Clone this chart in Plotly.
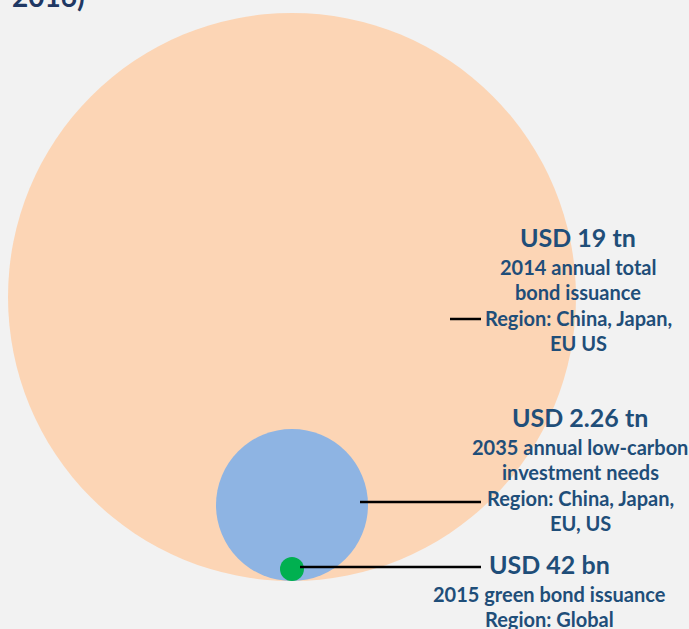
import plotly.graph_objects as go

# ---- data ----
labels = ["USD 19 tn", "USD 2.26 tn", "USD 42 bn"]
values_usd_bn = [19000, 2260, 42]
descriptions = [
    ["2014 annual total", "bond issuance", "Region: China, Japan,", "EU US"],
    ["2035 annual low-carbon", "investment needs", "Region: China, Japan,", "EU, US"],
    ["2015 green bond issuance", "Region: Global"],
]
title_fragment = "2016)"

# ---- styles / layout (pixel-like coordinate system) ----
W, H = 689, 629
colors = ["#fcd5b5", "#8eb4e3", "#00b050"]
radii = [284, 76, 12]          # drawn sizes of the bubbles
base_x, base_y = 292, 581      # common tangent point at the bottom
line_y = [319, 502, 567]
line_x0 = [450, 360, 300]
line_x1 = 481
head_xy = [(578, 237), (580, 417), (549, 564)]
text_color = "#1f4e79"
FONT = "Lato, Carlito, 'Liberation Sans', sans-serif"

fig = go.Figure()
fig.add_trace(go.Scatter(x=[0, W], y=[0, H], mode="markers",
                         marker=dict(opacity=0), hoverinfo="skip", showlegend=False))

shapes = []
for v, r, c in zip(values_usd_bn, radii, colors):
    cx, cy = base_x, base_y - r
    shapes.append(dict(type="circle", xref="x", yref="y",
                       x0=cx - r, x1=cx + r, y0=cy - r, y1=cy + r,
                       fillcolor=c, line=dict(width=0), layer="below"))
for y, x0 in zip(line_y, line_x0):
    shapes.append(dict(type="line", xref="x", yref="y", x0=x0, x1=line_x1,
                       y0=y, y1=y, line=dict(color="black", width=2.5)))

annotations = []
for lab, desc, (hx, hy) in zip(labels, descriptions, head_xy):
    annotations.append(dict(x=hx, y=hy, xref="x", yref="y", text=f"<b>{lab}</b>",
                            showarrow=False, xanchor="center", yanchor="middle",
                            font=dict(family=FONT, size=25, color=text_color)))
    for i, line in enumerate(desc):
        annotations.append(dict(x=hx, y=hy + 30 + 25.3 * i, xref="x", yref="y",
                                text=f"<b>{line}</b>", showarrow=False,
                                xanchor="center", yanchor="middle",
                                font=dict(family=FONT, size=20, color=text_color)))
annotations.append(dict(x=10 / W, y=1 + 4 / H, xref="paper", yref="paper",
                        text=f"<b>{title_fragment}</b>",
                        showarrow=False, xanchor="left", yanchor="middle",
                        font=dict(family=FONT, size=28, color="#1f3864")))

fig.update_layout(
    width=W, height=H, margin=dict(l=0, r=0, t=0, b=0),
    paper_bgcolor="#f2f2f2", plot_bgcolor="#f2f2f2",
    xaxis=dict(range=[0, W], visible=False, fixedrange=True),
    yaxis=dict(range=[H, 0], visible=False, fixedrange=True),
    shapes=shapes, annotations=annotations, showlegend=False,
)
fig.write_html("out.html", config={"displayModeBar": False},
               post_script="document.body.style.margin='0';document.body.style.background='#f2f2f2';")
